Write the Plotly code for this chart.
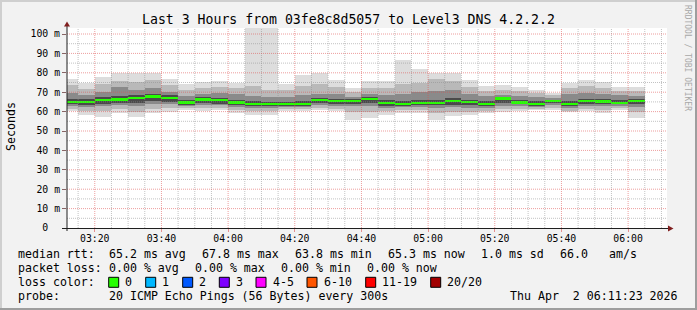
import plotly.graph_objects as go
from datetime import datetime, timedelta

# ---------------- data ----------------
DAY = "2026-04-02"
step_start = ["03:10", "03:15", "03:20", "03:25", "03:30", "03:35", "03:40", "03:45",
              "03:50", "03:55", "04:00", "04:05", "04:10", "04:15", "04:20", "04:25",
              "04:30", "04:35", "04:40", "04:45", "04:50", "04:55", "05:00", "05:05",
              "05:10", "05:15", "05:20", "05:25", "05:30", "05:35", "05:40", "05:45",
              "05:50", "05:55", "06:00"]
# ping rtt envelope (ms), outermost to innermost
max_ms = [77.0, 74.9, 78.0, 79.9, 79.9, 79.9, 77.0, 74.4, 75.4, 75.9, 74.9, 110.0, 110.0,
          74.1, 79.0, 79.9, 76.4, 72.3, 75.6, 75.6, 86.8, 82.1, 80.0, 80.0, 76.4, 73.3,
          73.9, 72.7, 71.3, 69.6, 74.7, 76.4, 75.2, 72.7, 72.7]
hi2_ms = [73.5, 71.5, 74.0, 76.0, 75.5, 76.5, 73.5, 71.0, 72.0, 72.5, 72.0, 73.0, 71.0,
          71.0, 73.0, 74.0, 72.5, 70.0, 72.0, 72.0, 74.0, 75.0, 77.0, 76.0, 72.5, 70.5,
          71.0, 70.5, 69.5, 68.5, 72.0, 73.0, 72.0, 70.5, 70.5]
hi3_ms = [69.5, 68.5, 70.0, 72.5, 71.0, 72.0, 70.0, 68.0, 69.0, 69.5, 69.0, 68.0, 67.5,
          67.5, 68.5, 69.0, 69.0, 67.5, 69.0, 68.5, 69.0, 70.0, 70.5, 71.0, 69.0, 68.0,
          68.5, 68.0, 67.5, 67.0, 69.0, 69.5, 69.0, 68.5, 68.0]
hi4_ms = [66.5, 66.5, 67.5, 68.0, 68.5, 69.0, 68.5, 66.0, 67.5, 67.0, 66.0, 65.5, 65.0,
          65.0, 65.5, 67.0, 66.5, 66.5, 67.5, 66.0, 65.5, 66.0, 66.0, 67.0, 66.0, 65.5,
          67.5, 66.0, 65.5, 66.0, 65.5, 66.5, 66.5, 66.0, 66.5]
median_ms = [65.1, 65.1, 65.8, 66.3, 67.2, 67.8, 67.2, 64.7, 66.3, 65.8, 64.7, 63.8, 63.8,
             63.8, 63.9, 65.8, 65.3, 65.3, 66.5, 64.6, 64.1, 64.6, 64.6, 65.3, 64.8, 63.8,
             66.8, 64.7, 64.1, 65.3, 63.8, 65.3, 65.2, 64.6, 65.3]
lo4_ms = [63.8, 63.5, 64.0, 64.5, 64.5, 65.5, 65.0, 63.5, 64.5, 64.0, 63.5, 62.8, 62.8,
          63.0, 63.0, 64.3, 64.0, 64.0, 64.5, 63.0, 63.0, 63.3, 63.2, 63.5, 63.2, 62.8,
          64.5, 63.8, 63.0, 64.2, 62.8, 64.0, 64.0, 63.8, 63.8]
lo3_ms = [63.0, 62.5, 63.0, 63.5, 63.0, 64.0, 64.0, 63.0, 63.5, 63.5, 62.5, 62.0, 62.0,
          62.5, 62.5, 63.5, 63.0, 63.0, 63.0, 62.0, 62.5, 62.5, 62.0, 62.5, 62.0, 62.0,
          63.0, 63.0, 62.5, 63.5, 62.0, 63.0, 63.0, 63.0, 62.5]
lo2_ms = [61.5, 60.5, 60.5, 61.5, 60.0, 61.5, 62.0, 62.0, 62.0, 62.0, 61.0, 60.5, 60.5,
          61.5, 61.5, 62.0, 61.5, 60.0, 60.0, 60.5, 61.0, 61.0, 59.5, 60.0, 60.0, 60.5,
          61.5, 61.5, 61.5, 62.0, 60.5, 61.5, 61.0, 62.0, 60.0]
min_ms = [60.1, 58.4, 57.2, 59.3, 57.2, 59.3, 59.8, 61.0, 60.1, 61.0, 59.3, 58.4, 58.4,
          60.1, 60.1, 60.9, 60.3, 55.8, 56.7, 58.4, 59.3, 59.3, 55.8, 57.5, 58.0, 59.3,
          59.6, 60.3, 61.0, 61.0, 59.6, 60.3, 59.3, 61.0, 56.7]

x_tick_labels = ["03:20", "03:40", "04:00", "04:20", "04:40", "05:00", "05:20", "05:40", "06:00"]
y_tick_vals = [0, 10, 20, 30, 40, 50, 60, 70, 80, 90, 100]
y_tick_text = ["0\u00a0\u00a0", "10 m", "20 m", "30 m", "40 m", "50 m", "60 m", "70 m",
               "80 m", "90 m", "100 m"]
x_range = ["2026-04-02 03:11:40", "2026-04-02 06:11:40"]
y_range = [0, 103.1]

title_text = "Last 3 Hours from 03fe8c8d5057 to Level3 DNS 4.2.2.2"
loss_labels = ["0", "1", "2", "3", "4-5", "6-10", "11-19", "20/20"]
loss_colors = ["#26ff00", "#00b8ff", "#0059ff", "#7e00ff", "#ff00ff", "#ff5500", "#ff0000", "#a10000"]

# ---------------- geometry ----------------
W, H = 697, 310
L, R, T, B = 67, 30, 28, 82
PW, PH = W - L - R, H - T - B
FONT = "DejaVu Sans Mono"


def pxx(x):
    return (x - L) / PW


def pxy(y):
    return (H - B - y) / PH


def ts(hm):
    return datetime.strptime(f"{DAY} {hm}", "%Y-%m-%d %H:%M")


STEP = timedelta(minutes=5)
centers = [ts(s) + STEP / 2 for s in step_start]
n = len(centers)
WIDTH_MS = 300000

fig = go.Figure()


def band(lo, hi, color):
    fig.add_trace(go.Bar(
        x=centers, y=[h - l for h, l in zip(hi, lo)], base=lo,
        width=[WIDTH_MS] * n, marker=dict(color=color, line=dict(width=0)),
        hoverinfo="skip", showlegend=False))


band(min_ms, max_ms, "#dddddd")
band(lo2_ms, hi2_ms, "#b9b9b9")
band(lo3_ms, hi3_ms, "#8a8a8a")
band(lo4_ms, hi4_ms, "#4a4a4a")
MED_H = 1.15
fig.add_trace(go.Bar(
    x=centers, y=[MED_H] * n, base=[m - MED_H / 2 for m in median_ms],
    width=[WIDTH_MS] * n, marker=dict(color="#26ff00", line=dict(width=0)),
    hoverinfo="skip", showlegend=False))

shapes = []
MAJ = "rgba(222,79,79,0.55)"
MIN = "rgba(143,143,143,0.55)"
# grid lines on top of data (like rrdtool)
t0 = ts("03:15")
tmax = datetime.strptime(x_range[1], "%Y-%m-%d %H:%M:%S")
t = t0
while t < tmax:
    major = t.minute % 20 == 0
    shapes.append(dict(type="line", xref="x", yref="paper", x0=t, x1=t, y0=0, y1=1,
                       line=dict(color=MAJ if major else MIN, width=1, dash="1px,1px"),
                       layer="above"))
    t += STEP
for v in range(5, 104, 5):
    major = v % 10 == 0
    shapes.append(dict(type="line", xref="paper", yref="y", x0=0, x1=1, y0=v, y1=v,
                       line=dict(color=MAJ if major else MIN, width=1, dash="1px,1px"),
                       layer="above"))

# axes lines with arrows
AXIS = "#1f1f1f"
ARROW = "#801f1f"
shapes.append(dict(type="line", xref="paper", yref="paper", x0=pxx(62), x1=pxx(669),
                   y0=pxy(228.5), y1=pxy(228.5), line=dict(color=AXIS, width=1), layer="above"))
shapes.append(dict(type="line", xref="paper", yref="paper", x0=pxx(67), x1=pxx(67),
                   y0=pxy(231), y1=pxy(25), line=dict(color=AXIS, width=1), layer="above"))
shapes.append(dict(type="path", xref="paper", yref="paper",
                   path=f"M {pxx(64)},{pxy(26.5)} L {pxx(70)},{pxy(26.5)} L {pxx(67)},{pxy(21.5)} Z",
                   fillcolor=ARROW, line=dict(width=0), layer="above"))
shapes.append(dict(type="path", xref="paper", yref="paper",
                   path=f"M {pxx(668)},{pxy(225.5)} L {pxx(668)},{pxy(231.5)} L {pxx(673.5)},{pxy(228.5)} Z",
                   fillcolor=ARROW, line=dict(width=0), layer="above"))

# canvas 3D frame
shapes += [
    dict(type="rect", xref="paper", yref="paper", x0=pxx(0), x1=pxx(W), y0=pxy(0), y1=pxy(2),
         fillcolor="#cfcfcf", line=dict(width=0), layer="above"),
    dict(type="rect", xref="paper", yref="paper", x0=pxx(0), x1=pxx(2), y0=pxy(0), y1=pxy(H),
         fillcolor="#cfcfcf", line=dict(width=0), layer="above"),
    dict(type="rect", xref="paper", yref="paper", x0=pxx(W - 2), x1=pxx(W), y0=pxy(0), y1=pxy(H),
         fillcolor="#9e9e9e", line=dict(width=0), layer="above"),
    dict(type="rect", xref="paper", yref="paper", x0=pxx(0), x1=pxx(W), y0=pxy(H - 2), y1=pxy(H),
         fillcolor="#9e9e9e", line=dict(width=0), layer="above"),
]

annotations = []


def text(x, y, s, size=11.6, anchor="left", color="#000", angle=0, yanchor="middle"):
    annotations.append(dict(xref="paper", yref="paper", x=pxx(x), y=pxy(y), text=s,
                            showarrow=False, xanchor=anchor, yanchor=yanchor, textangle=angle,
                            font=dict(family=FONT, size=size, color=color)))


text(348.5, 19, title_text, size=13.2, anchor="center")
text(11, 127, "Seconds", size=11.6, anchor="center", angle=-90)
text(688, 58, "RRDTOOL / TOBI OETIKER", size=8, anchor="center", angle=90, color="#a8a8a8")

r1, r2, r3, r4 = 254.3, 268.3, 282.3, 296.3
text(16, r1, "median rtt:")
text(107.3, r1, "65.2 ms avg")
text(200, r1, "67.8 ms max")
text(293, r1, "63.8 ms min")
text(386, r1, "65.3 ms now")
text(479.3, r1, "1.0 ms sd")
text(558.3, r1, "66.0")
text(607.3, r1, "am/s")

text(16, r2, "packet loss:")
text(107.3, r2, "0.00 % avg")
text(193.3, r2, "0.00 % max")
text(279.3, r2, "0.00 % min")
text(365, r2, "0.00 % now")

text(16, r3, "loss color:")
box_x = [108.7, 145.7, 182.7, 219.3, 256, 307, 365.7, 430.7]
for bx, lab, col in zip(box_x, loss_labels, loss_colors):
    shapes.append(dict(type="rect", xref="paper", yref="paper", x0=pxx(bx), x1=pxx(bx + 10),
                       y0=pxy(r3 + 5), y1=pxy(r3 - 5), fillcolor=col,
                       line=dict(color="#000", width=1), layer="above"))
    text(bx + 14.6, r3, lab)

text(16, r4, "probe:")
text(107.3, r4, "20 ICMP Echo Pings (56 Bytes) every 300s")
text(680, r4, "Thu Apr  2 06:11:23 2026".replace("  ", "\u00a0\u00a0"), anchor="right")

fig.update_layout(
    width=W, height=H, margin=dict(l=L, r=R, t=T, b=B, pad=0),
    paper_bgcolor="#f2f2f2", plot_bgcolor="#ffffff",
    barmode="overlay", bargap=0, showlegend=False,
    font=dict(family=FONT, size=10, color="#000"),
    shapes=shapes, annotations=annotations,
)
fig.update_xaxes(
    type="date", range=x_range,
    tickmode="array", tickvals=[ts(s) for s in x_tick_labels], ticktext=x_tick_labels,
    ticks="outside", ticklen=3, tickcolor="rgba(222,79,79,0.6)",
    tickfont=dict(family=FONT, size=9.8, color="#000"),
    ticklabelstandoff=-2,
    showgrid=False, zeroline=False, showline=False, fixedrange=True,
)
fig.update_yaxes(
    range=y_range, tickmode="array", tickvals=y_tick_vals, ticktext=y_tick_text,
    ticks="outside", ticklen=4, tickcolor="rgba(90,40,40,0.7)",
    tickfont=dict(family=FONT, size=9.8, color="#000"),
    showgrid=False, zeroline=False, showline=False, fixedrange=True,
)

fig.write_html("out.html", config={"displayModeBar": False})
